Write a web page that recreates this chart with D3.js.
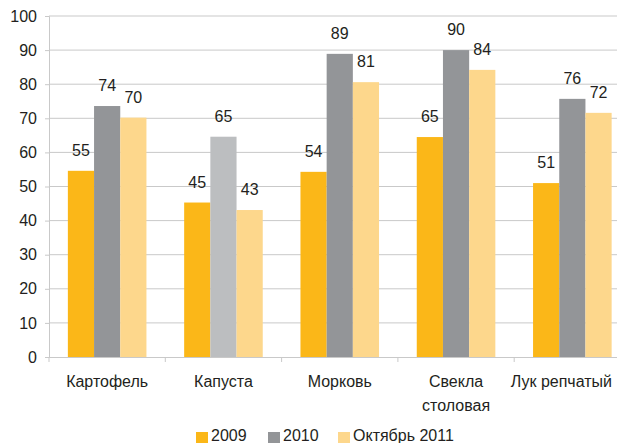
<!DOCTYPE html>
<html><head><meta charset="utf-8">
<script src="https://cdn.jsdelivr.net/npm/d3@7"></script>
<style>body{margin:0;background:#fff}svg{display:block}text{font-family:"Liberation Sans",Arial,sans-serif;fill:#231f20}</style>
</head><body><svg id="c" width="617" height="443"></svg>
<script>
const categories = ["Картофель","Капуста","Морковь","Свекла\nстоловая","Лук репчатый"];
const seriesNames = ["2009","2010","Октябрь 2011"];
const v2009 = [54.6,45.3,54.3,64.5,51.0];
const v2010 = [73.6,64.6,88.9,90.0,75.7];
const v2011 = [70.2,43.1,80.6,84.2,71.6];
const yTicks = [0,10,20,30,40,50,60,70,80,90,100];
const colors = ["#FBB718","#939598","#FDD78C"];
const lightGray = "#BCBEC0";

const svg = d3.select("#c");
const x0 = 49, yTop = 16, yBot = 357;
const x = d3.scaleBand().domain(categories).range([x0, x0+5*116.3]).paddingInner(0).paddingOuter(0);
const y = d3.scaleLinear().domain([0,100]).range([yBot,yTop]);
const xs = d3.scaleBand().domain(seriesNames).range([0,x.bandwidth()]).paddingOuter(0.72).paddingInner(0);

// gridlines
svg.append("g").selectAll("line").data(yTicks.filter(d=>d>0)).join("line")
  .attr("x1",x0).attr("x2",617).attr("y1",d=>y(d)).attr("y2",d=>y(d))
  .attr("stroke","#c9c9c9").attr("stroke-width",1);

// y axis
const ya = svg.append("g").attr("transform",`translate(${x0},0)`).call(d3.axisLeft(y).tickValues(yTicks).tickSize(4).tickPadding(8));
ya.select(".domain").attr("stroke","#c9c9c9");
ya.selectAll(".tick line").attr("stroke","#c9c9c9");
ya.selectAll("text").style("font-size","16px").attr("fill","#231f20");

// bars
const data = [v2009,v2010,v2011];
const g = svg.append("g");
categories.forEach((c,i)=>{
  data.forEach((arr,s)=>{
    const col = (s===1 && i===1) ? lightGray : colors[s];
    g.append("rect").attr("x",x(c)+xs(seriesNames[s])).attr("y",y(arr[i]))
      .attr("width",xs.bandwidth()).attr("height",yBot-y(arr[i])).attr("fill",col);
    g.append("text").attr("x",x(c)+xs(seriesNames[s])+xs.bandwidth()/2).attr("y",y(arr[i])-15)
      .attr("text-anchor","middle").style("font-size","16px").text(d3.format(".0f")(arr[i]));
  });
});

// x axis
const xa = svg.append("g").attr("transform",`translate(0,${yBot})`);
xa.append("line").attr("x1",x0).attr("x2",617).attr("y1",0.5).attr("y2",0.5).attr("stroke","#c9c9c9");
const bounds = d3.range(6).map(i=>x0+i*x.step());
xa.selectAll("line.t").data(bounds).join("line").attr("class","t")
  .attr("x1",d=>d).attr("x2",d=>d).attr("y1",0).attr("y2",5).attr("stroke","#c9c9c9");
categories.forEach(c=>{
  c.split("\n").forEach((line,k)=>{
    const t = xa.append("text").attr("text-anchor","middle").style("font-size","16px")
      .attr("x",x(c)+x.bandwidth()/2).attr("y",30+k*24).text(line);
    const w = t.node().getComputedTextLength();
    const cx = x(c)+x.bandwidth()/2;
    if (cx + w/2 > 612) t.attr("x", 612 - w/2);
  });
});

// legend
const legX = [196,268,338];
const lg = svg.append("g");
seriesNames.forEach((n,s)=>{
  lg.append("rect").attr("x",legX[s]).attr("y",432).attr("width",12).attr("height",11).attr("fill",colors[s]);
  lg.append("text").attr("x",legX[s]+15).attr("y",441).style("font-size","16px").text(n);
});
</script></body></html>
